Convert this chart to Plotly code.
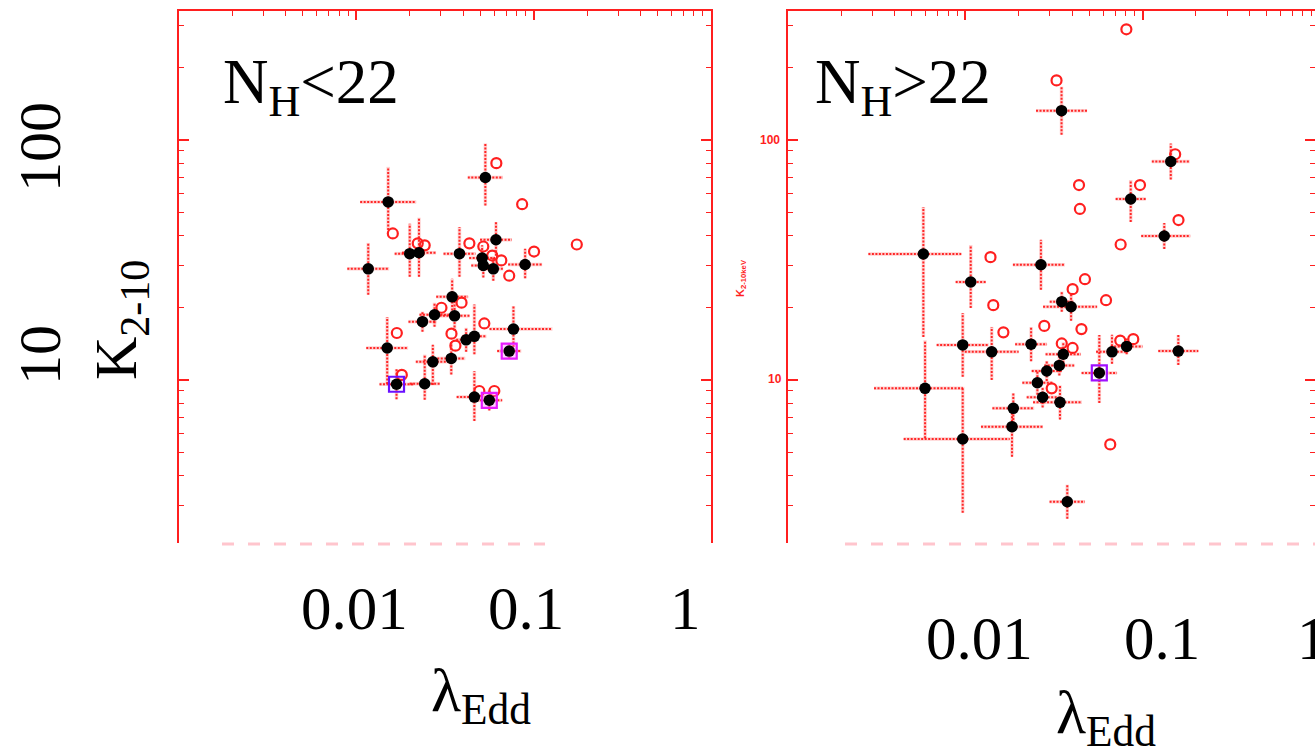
import plotly.graph_objects as go

W, H = 1315, 750
RED = "#ff1f1f"
SERIF = "Liberation Serif"

# ---------------- N_H < 22 sample ----------------
left_lam = [0.0534, 0.01512, 0.01167, 0.0200, 0.02256, 0.03816, 0.0613, 0.0512, 0.0520,
            0.0592, 0.0895, 0.0347, 0.0276, 0.0236, 0.0358, 0.0769, 0.01493, 0.0416,
            0.0463, 0.0728, 0.0270, 0.0343, 0.01685, 0.0243, 0.0463, 0.0562]
left_k = [69.8, 55.2, 29.05, 33.6, 33.9, 33.6, 38.4, 32.2, 30.0,
          29.05, 30.3, 22.2, 18.7, 17.5, 18.5, 16.3, 13.6, 14.7,
          15.2, 13.2, 11.9, 12.3, 9.60, 9.65, 8.49, 8.23]
# error bars in dex (lower / upper)
left_dx_lo = [0.099, 0.158, 0.118, 0.085, 0.096, 0.090, 0.090, 0.073, 0.068,
              0.056, 0.096, 0.090, 0.085, 0.079, 0.085, 0.135, 0.118, 0.056,
              0.068, 0.068, 0.096, 0.079, 0.096, 0.085, 0.100, 0.073]
left_dx_hi = [0.099, 0.158, 0.118, 0.085, 0.096, 0.090, 0.090, 0.073, 0.068,
              0.056, 0.096, 0.090, 0.085, 0.079, 0.085, 0.220, 0.118, 0.056,
              0.068, 0.068, 0.096, 0.079, 0.096, 0.085, 0.100, 0.073]
left_dy_lo = [0.117, 0.117, 0.108, 0.096, 0.100, 0.096, 0.067, 0.054, 0.050,
              0.050, 0.058, 0.071, 0.050, 0.042, 0.063, 0.075, 0.150, 0.050,
              0.075, 0.033, 0.096, 0.067, 0.063, 0.067, 0.100, 0.042]
left_dy_hi = [0.142, 0.146, 0.108, 0.125, 0.146, 0.111, 0.074, 0.054, 0.050,
              0.050, 0.065, 0.075, 0.050, 0.042, 0.063, 0.096, 0.129, 0.050,
              0.133, 0.033, 0.071, 0.067, 0.063, 0.121, 0.108, 0.042]
left_open_lam = [0.0616, 0.0861, 0.01606, 0.0222, 0.0243, 0.0434, 0.0520, 0.0584, 0.0657,
                 0.0728, 0.1005, 0.1751, 0.0302, 0.0392, 0.0527, 0.0344, 0.0362, 0.01692,
                 0.01805, 0.0494, 0.0600]
left_open_k = [80.1, 54.0, 40.8, 37.1, 36.4, 37.1, 36.0, 33.0, 31.5,
               27.2, 34.3, 36.7, 20.0, 21.0, 17.2, 15.6, 13.9, 15.7,
               10.5, 9.0, 9.0]
left_boxed = [22, 19, 25]
left_box_colors = ["#6a10ff", "#e81cff", "#e81cff"]
left_box_fill = ["rgba(0,0,0,0)", "rgba(255,120,255,0.35)", "rgba(255,120,255,0.35)"]

# ---------------- N_H > 22 sample ----------------
right_lam = [0.0349, 0.1442, 0.0857, 0.1325, 0.00580, 0.0267, 0.01073, 0.0350, 0.0395,
             0.00967, 0.01409, 0.0235, 0.0357, 0.0672, 0.0813, 0.159, 0.0339, 0.0288,
             0.0570, 0.00593, 0.0255, 0.0273, 0.0342, 0.01865, 0.01834, 0.00967, 0.0376]
right_k = [132.5, 81.4, 56.8, 39.8, 33.5, 30.2, 25.6, 21.2, 20.2,
           14.0, 13.1, 14.1, 12.8, 13.1, 13.8, 13.2, 11.5, 10.9,
           10.7, 9.23, 9.74, 8.47, 8.07, 7.62, 6.39, 5.68, 3.11]
right_dx_lo = [0.144, 0.107, 0.085, 0.130, 0.310, 0.158, 0.085, 0.068, 0.158,
               0.147, 0.152, 0.090, 0.100, 0.090, 0.090, 0.113, 0.085, 0.085,
               0.100, 0.288, 0.085, 0.090, 0.152, 0.118, 0.175, 0.333, 0.100]
right_dx_hi = [0.144, 0.107, 0.085, 0.147, 0.214, 0.135, 0.085, 0.068, 0.147,
               0.147, 0.152, 0.090, 0.100, 0.090, 0.090, 0.113, 0.085, 0.085,
               0.100, 0.214, 0.085, 0.090, 0.124, 0.118, 0.175, 0.265, 0.100]
right_dy_lo = [0.100, 0.075, 0.096, 0.054, 0.346, 0.104, 0.108, 0.042, 0.058,
               0.133, 0.117, 0.071, 0.050, 0.050, 0.033, 0.058, 0.042, 0.042,
               0.125, 0.208, 0.050, 0.042, 0.071, 0.063, 0.125, 0.308, 0.071]
right_dy_hi = [0.100, 0.075, 0.079, 0.054, 0.196, 0.104, 0.154, 0.042, 0.058,
               0.133, 0.104, 0.071, 0.050, 0.071, 0.033, 0.067, 0.042, 0.042,
               0.158, 0.200, 0.050, 0.042, 0.071, 0.063, 0.075, 0.217, 0.071]
right_open_lam = [0.0810, 0.0327, 0.1527, 0.0438, 0.0967, 0.0443, 0.1594, 0.0752, 0.01387,
                  0.0473, 0.0403, 0.01438, 0.0622, 0.0279, 0.0452, 0.0164, 0.0350, 0.0403,
                  0.0748, 0.0886, 0.0307, 0.0657]
right_open_k = [289.2, 177.1, 87.2, 64.9, 64.9, 51.6, 46.4, 36.7, 32.5,
                26.3, 23.9, 20.5, 21.5, 16.8, 16.3, 15.8, 14.2, 13.6,
                14.6, 14.8, 9.23, 5.39]
right_boxed = [18]
right_box_colors = ["#a010ff"]
right_box_fill = ["rgba(0,0,0,0)"]

# axis extents (log10)
x_range_left = [-3.0, 0.0]
x_range_right = [-3.0, -0.0276]
y_range = [0.3208, 2.5375]


def error_segments(lam, k, dxl, dxh, dyl, dyh):
    xs, ys = [], []
    for l, v, a, b, c, d in zip(lam, k, dxl, dxh, dyl, dyh):
        xs += [l * 10 ** -a, l * 10 ** b, None, l, l, None]
        ys += [v, v, None, v * 10 ** -c, v * 10 ** d, None]
    return xs, ys


def panel_traces(lam, k, dxl, dxh, dyl, dyh, olam, ok, boxed, bcol, bfill, xa, ya):
    ex, ey = error_segments(lam, k, dxl, dxh, dyl, dyh)
    return [
        # soft halo under the dotted error bars
        go.Scatter(x=ex, y=ey, mode="lines", xaxis=xa, yaxis=ya,
                   line=dict(color="rgba(255,120,120,0.35)", width=3.5),
                   hoverinfo="skip", showlegend=False),
        go.Scatter(x=ex, y=ey, mode="lines", xaxis=xa, yaxis=ya,
                   line=dict(color="rgba(255,20,20,0.9)", width=2, dash="2px,1.5px"),
                   hoverinfo="skip", showlegend=False),
        go.Scatter(x=olam, y=ok, mode="markers", xaxis=xa, yaxis=ya,
                   marker=dict(symbol="circle-open", size=10, color=RED, line=dict(width=2.2)),
                   showlegend=False),
        go.Scatter(x=[lam[i] for i in boxed], y=[k[i] for i in boxed], mode="markers",
                   xaxis=xa, yaxis=ya,
                   marker=dict(symbol="square", size=15, color=bfill,
                               line=dict(color=bcol, width=2.2)),
                   showlegend=False),
        go.Scatter(x=lam, y=k, mode="markers", xaxis=xa, yaxis=ya,
                   marker=dict(symbol="circle", size=11.5, color="black"),
                   showlegend=False),
    ]


fig = go.Figure()
for t in panel_traces(left_lam, left_k, left_dx_lo, left_dx_hi, left_dy_lo, left_dy_hi,
                      left_open_lam, left_open_k, left_boxed, left_box_colors, left_box_fill,
                      "x", "y"):
    fig.add_trace(t)
for t in panel_traces(right_lam, right_k, right_dx_lo, right_dx_hi, right_dy_lo, right_dy_hi,
                      right_open_lam, right_open_k, right_boxed, right_box_colors, right_box_fill,
                      "x2", "y2"):
    fig.add_trace(t)
# keeps the right-edge tick axis of the second panel active
fig.add_trace(go.Scatter(x=[None], y=[None], xaxis="x2", yaxis="y3", showlegend=False,
                         hoverinfo="skip"))

y_dom = [1 - 543 / H, 1 - 11 / H]

xaxis_common = dict(type="log", side="top", showline=True, linecolor=RED, linewidth=2,
                    ticks="inside", ticklen=9, tickwidth=1.5, tickcolor=RED, dtick=1,
                    showticklabels=False, showgrid=False, zeroline=False,
                    minor=dict(ticks="inside", ticklen=5, tickcolor=RED, tickwidth=1.2,
                               dtick="D1", showgrid=False))
yaxis_common = dict(type="log", range=y_range, domain=y_dom, showline=True, linecolor=RED,
                    linewidth=2, ticks="inside", ticklen=10, tickwidth=1.5, tickcolor=RED,
                    dtick=1, showticklabels=False, showgrid=False, zeroline=False,
                    minor=dict(ticks="inside", ticklen=5, tickcolor=RED, tickwidth=1.2,
                               dtick="D1", showgrid=False))

fig.update_layout(
    width=W, height=H,
    margin=dict(l=0, r=0, t=0, b=0),
    paper_bgcolor="white", plot_bgcolor="white",
    showlegend=False,
    xaxis=dict(xaxis_common, range=x_range_left, domain=[179 / W, 711 / W], anchor="y"),
    yaxis=dict(yaxis_common, anchor="x", mirror="ticks"),
    xaxis2=dict(xaxis_common, range=x_range_right, domain=[788 / W, 1.0], anchor="y2"),
    yaxis2=dict(yaxis_common, anchor="x2"),
    yaxis3=dict(yaxis_common, anchor="x2", overlaying="y2", side="right", showline=False),
)

ann = []


def txt(text, px, py, size, angle=0, color="black", family=SERIF):
    ann.append(dict(text=text, x=px / W, y=1 - py / H, xref="paper", yref="paper",
                    showarrow=False, textangle=angle, xanchor="center", yanchor="middle",
                    font=dict(family=family, size=size, color=color)))


# panel labels
txt("N<sub>H</sub>&lt;22", 311, 86, 63)
txt("N<sub>H</sub>&gt;22", 903, 86, 63)
# left y tick labels and title
txt("100", 40, 147, 60, angle=-90)
txt("10", 40, 355, 60, angle=-90)
txt("K<sub>2-10</sub>", 120, 320, 60, angle=-90)
# left x tick labels and title
txt("0.01", 355, 608, 61)
txt("0.1", 526, 608, 61)
txt("1", 685, 608, 61)
txt("λ<sub>Edd</sub>", 481, 694, 62)
# right x tick labels and title
txt("0.01", 979, 638, 61)
txt("0.1", 1162, 638, 61)
txt("1", 1312, 638, 61)
txt("λ<sub>Edd</sub>", 1106, 716, 62)
# small axis labels of the right panel
txt("<b>100</b>", 770, 140, 12, color=RED, family="Liberation Sans")
txt("<b>10</b>", 775, 379, 12, color=RED, family="Liberation Sans")
txt("<b>K<sub>2-10keV</sub></b>", 741, 278, 11, angle=-90, color=RED, family="Liberation Sans")

fig.update_layout(annotations=ann)

# faint bottom axis remnants
for x0, x1 in [(222, 545), (845, 1315)]:
    fig.add_shape(type="line", xref="paper", yref="paper", x0=x0 / W, x1=x1 / W,
                  y0=1 - 544 / H, y1=1 - 544 / H,
                  line=dict(color="rgba(255,110,130,0.4)", width=3, dash="12px,14px"))

fig.write_html("out.html")
